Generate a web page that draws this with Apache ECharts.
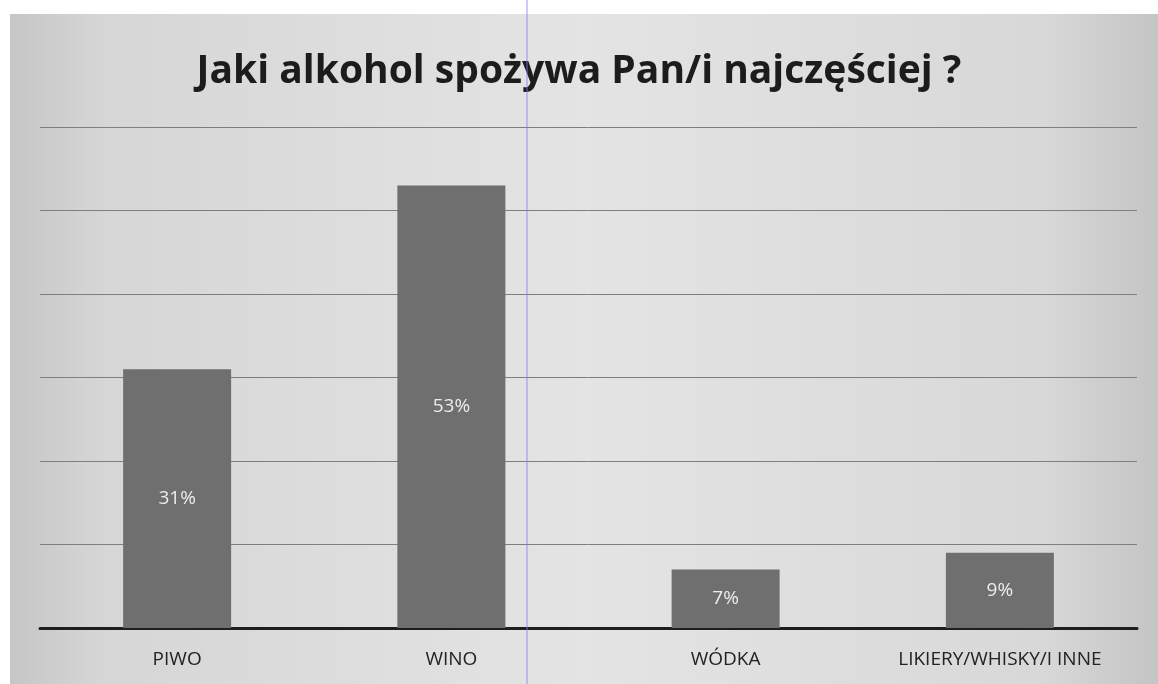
<!DOCTYPE html>
<html>
<head>
<meta charset="utf-8">
<script src="https://cdn.jsdelivr.net/npm/echarts@6/dist/echarts.min.js"></script>
<style>
html,body{margin:0;padding:0;background:#fff;}
#c{width:1158px;height:684px;}
</style>
</head>
<body>
<div id="c"></div>
<script>
const titleText = 'Jaki alkohol spożywa Pan/i najczęściej ?';
const categories = ['PIWO', 'WINO', 'WÓDKA', 'LIKIERY/WHISKY/I INNE'];
const values = [31, 53, 7, 9];

const chart = echarts.init(document.getElementById('c'));
chart.setOption({
  backgroundColor: '#ffffff',
  animation: false,
  graphic: [
    {
      type: 'rect', z: -10, silent: true,
      shape: { x: 10, y: 14, width: 1148, height: 670 },
      style: {
        fill: {
          type: 'linear', x: 0, y: 0, x2: 1, y2: 0,
          colorStops: [
            { offset: 0, color: '#c6c6c6' },
            { offset: 0.08, color: '#d6d6d6' },
            { offset: 0.5, color: '#e4e4e4' },
            { offset: 0.9, color: '#d8d8d8' },
            { offset: 1, color: '#c4c4c4' }
          ]
        }
      }
    },
    {
      type: 'line', z: 100, silent: true,
      shape: { x1: 527, y1: 0, x2: 527, y2: 684 },
      style: { stroke: '#7f7ff0', lineWidth: 1, opacity: 0.8 }
    }
  ],
  title: {
    text: titleText,
    left: 'center',
    top: 47,
    textStyle: {
      fontFamily: 'Open Sans',
      fontWeight: 'bold',
      fontSize: 39,
      color: '#1c1c1c'
    }
  },
  grid: { left: 40, right: 21, top: 127, bottom: 56 },
  xAxis: {
    type: 'category',
    data: categories,
    axisLine: { lineStyle: { color: '#1e1e1e', width: 3 } },
    axisTick: { show: false },
    axisLabel: {
      interval: 0,
      hideOverlap: false,
      margin: 22,
      fontFamily: 'Open Sans',
      fontSize: 19,
      color: '#222'
    }
  },
  yAxis: {
    type: 'value',
    min: 0, max: 60, interval: 10,
    axisLabel: { show: false },
    axisLine: { show: false },
    axisTick: { show: false },
    splitLine: { lineStyle: { color: '#7e7e7e', width: 1 } }
  },
  series: [{
    type: 'bar',
    data: values,
    barWidth: 108,
    itemStyle: { color: '#6f6f6f' },
    label: {
      show: true,
      position: 'inside',
      formatter: '{c}%',
      fontFamily: 'Open Sans',
      fontSize: 19,
      color: '#ececec'
    }
  }]
});
</script>
</body>
</html>
